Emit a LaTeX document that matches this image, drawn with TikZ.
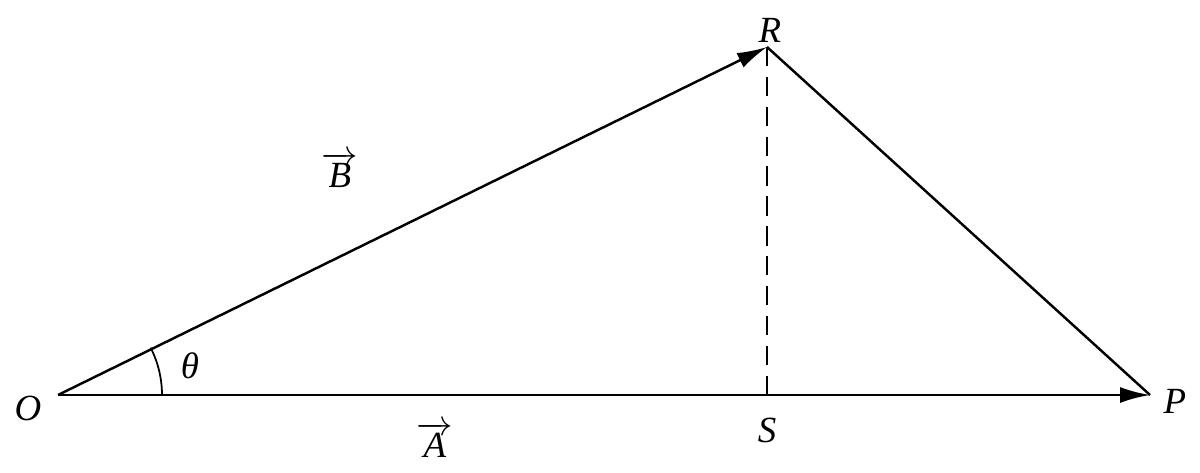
\documentclass[tikz,border=0pt]{standalone}
\usepackage{fontspec}
\setmainfont{Liberation Serif}
\usetikzlibrary{arrows.meta}
\begin{document}
\begin{tikzpicture}[x=0.02cm,y=-0.02cm,
  seg/.style={line width=1.4pt},
  vecarrow/.style={seg,-{Latex[length=0.6cm,width=0.32cm]}},
  lbl/.style={inner sep=0pt, font=\fontsize{21}{24}\selectfont\itshape}]
\useasboundingbox (0,0) rectangle (1200,473);
\coordinate (O) at (58,395);
\coordinate (P) at (1150,395);
\coordinate (R) at (767,47);
\coordinate (S) at (767,395);
\draw[vecarrow] (O) -- (R);
\draw[vecarrow] (O) -- (P);
\draw[seg] (R) -- (P);
\draw[line width=1pt, dash pattern=on 11pt off 6pt] (R) -- (S);
\draw[line width=1pt] (162,395) arc[start angle=0, end angle=-27.0, radius=104];
\node[lbl] (lR) at (770,30) {R};
\node[lbl] (lP) at (1175,401) {P};
\node[lbl] (lO) at (28,408) {O};
\node[lbl] (lS) at (767,430) {S};
\node[lbl] (lt) at (190,366) {θ};
\node[lbl] (lB) at (340,170) {$\overrightarrow{\hbox{\itshape B}}$};
\node[lbl] (lA) at (435,440) {$\overrightarrow{\hbox{\itshape A}}$};
\end{tikzpicture}
\end{document}
